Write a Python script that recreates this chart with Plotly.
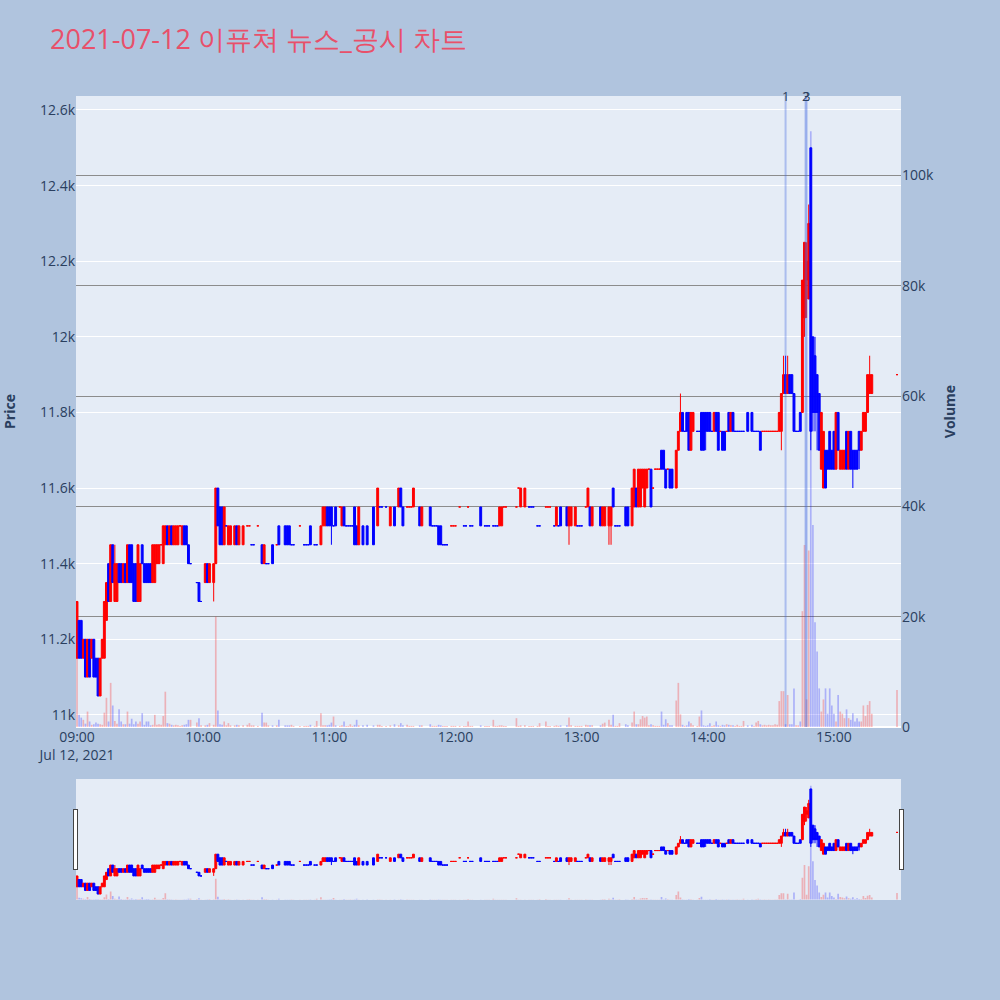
import pandas as pd
import plotly.graph_objects as go
from plotly.subplots import make_subplots

title_text = "2021-07-12 이퓨쳐 뉴스_공시 차트"

# minute offsets from 09:00 for each traded minute
minutes = [
    0, 1, 2, 3, 4, 5, 6, 7, 8, 9, 10, 11, 12, 13, 14, 15, 16, 17, 18, 19,
    20, 21, 22, 23, 24, 25, 26, 27, 28, 29, 30, 31, 32, 33, 34, 35, 36, 37, 38, 39,
    40, 41, 42, 43, 44, 45, 46, 47, 48, 49, 50, 51, 52, 53, 54, 57, 58, 59, 61, 62,
    63, 65, 66, 67, 68, 69, 70, 71, 72, 73, 75, 76, 77, 79, 81, 82, 83, 84, 86, 88,
    89, 90, 91, 93, 95, 96, 99, 100, 101, 102, 103, 106, 108, 109, 110, 111, 113, 114, 116, 117,
    118, 119, 120, 121, 122, 123, 125, 126, 127, 128, 129, 130, 131, 132, 133, 134, 136, 138, 141, 143,
    144, 145, 147, 149, 151, 153, 154, 155, 157, 158, 159, 160, 163, 164, 168, 169, 170, 171, 172, 173,
    174, 175, 176, 178, 179, 180, 182, 184, 185, 186, 187, 188, 192, 194, 195, 196, 198, 199, 200, 201,
    202, 203, 204, 209, 210, 211, 213, 215, 216, 217, 219, 220, 223, 224, 225, 227, 228, 229, 230, 233,
    234, 235, 237, 238, 239, 240, 242, 243, 244, 245, 249, 250, 251, 253, 254, 255, 256, 257, 258, 261,
    262, 264, 265, 266, 267, 268, 269, 270, 271, 272, 273, 274, 275, 276, 277, 278, 279, 280, 281, 282,
    283, 285, 286, 287, 288, 289, 290, 291, 292, 293, 295, 296, 297, 298, 299, 300, 301, 302, 303, 304,
    305, 306, 307, 308, 309, 310, 311, 312, 313, 314, 315, 316, 317, 319, 321, 322, 323, 324, 325, 326,
    327, 328, 329, 330, 331, 332, 333, 334, 335, 336, 337, 338, 339, 340, 341, 342, 343, 344, 345, 346,
    347, 348, 349, 350, 351, 352, 353, 354, 355, 356, 357, 358, 359, 360, 361, 362, 363, 364, 365, 366,
    367, 368, 369, 370, 371, 372, 373, 374, 375, 376, 377, 378, 390,
]

opens = [
    11150, 11250, 11250, 11150, 11200, 11100, 11200, 11150, 11200, 11150, 11150, 11050, 11150, 11150, 11250, 11400, 11300, 11450, 11300, 11300,
    11400, 11400, 11350, 11400, 11350, 11450, 11450, 11400, 11400, 11300, 11300, 11450, 11400, 11400, 11400, 11400, 11350, 11350, 11400, 11400,
    11450, 11400, 11450, 11500, 11450, 11500, 11450, 11450, 11450, 11500, 11450, 11500, 11500, 11450, 11400, 11350, 11350, 11300, 11350, 11400,
    11350, 11350, 11400, 11600, 11550, 11550, 11450, 11500, 11450, 11450, 11450, 11500, 11450, 11450, 11500, 11500, 11450, 11450, 11500, 11450,
    11400, 11400, 11400, 11450, 11450, 11500, 11500, 11500, 11500, 11450, 11450, 11500, 11450, 11450, 11450, 11500, 11450, 11450, 11450, 11500,
    11500, 11550, 11550, 11550, 11500, 11550, 11550, 11500, 11550, 11500, 11500, 11500, 11500, 11550, 11500, 11450, 11500, 11500, 11550, 11500,
    11550, 11550, 11550, 11500, 11550, 11550, 11600, 11550, 11550, 11550, 11550, 11550, 11550, 11500, 11550, 11500, 11500, 11500, 11500, 11500,
    11450, 11450, 11450, 11500, 11500, 11500, 11550, 11500, 11500, 11550, 11500, 11500, 11550, 11500, 11500, 11500, 11500, 11500, 11500, 11500,
    11500, 11550, 11550, 11550, 11600, 11550, 11550, 11550, 11550, 11550, 11500, 11500, 11550, 11550, 11550, 11500, 11500, 11500, 11550, 11550,
    11500, 11500, 11500, 11500, 11500, 11500, 11550, 11550, 11550, 11500, 11550, 11500, 11500, 11500, 11500, 11600, 11500, 11500, 11500, 11550,
    11550, 11500, 11550, 11600, 11550, 11550, 11600, 11550, 11600, 11650, 11650, 11600, 11650, 11650, 11650, 11700, 11700, 11650, 11650, 11650,
    11650, 11600, 11700, 11750, 11800, 11750, 11800, 11800, 11700, 11750, 11750, 11750, 11800, 11800, 11800, 11800, 11800, 11750, 11750, 11800,
    11800, 11750, 11750, 11750, 11750, 11800, 11750, 11800, 11750, 11750, 11750, 11750, 11750, 11800, 11800, 11750, 11750, 11750, 11750, 11750,
    11750, 11750, 11750, 11750, 11750, 11750, 11750, 11750, 11750, 11850, 11900, 11850, 11900, 11900, 11850, 11750, 11750, 11800, 11800, 12050,
    12150, 12100, 12500, 12000, 11950, 11900, 11850, 11650, 11600, 11700, 11700, 11750, 11700, 11750, 11650, 11800, 11650, 11650, 11650, 11750,
    11650, 11750, 11700, 11700, 11700, 11750, 11700, 11750, 11750, 11800, 11850, 11850, 11900,
]

highs = [
    11300, 11250, 11250, 11200, 11200, 11200, 11200, 11200, 11200, 11150, 11150, 11150, 11200, 11300, 11350, 11400, 11450, 11450, 11450, 11400,
    11400, 11400, 11400, 11400, 11450, 11450, 11450, 11400, 11400, 11450, 11400, 11450, 11400, 11400, 11400, 11400, 11450, 11450, 11450, 11450,
    11450, 11500, 11500, 11500, 11500, 11500, 11500, 11500, 11500, 11500, 11500, 11500, 11500, 11450, 11400, 11350, 11350, 11300, 11400, 11400,
    11400, 11400, 11600, 11600, 11550, 11550, 11550, 11500, 11500, 11500, 11500, 11500, 11500, 11500, 11500, 11500, 11450, 11450, 11500, 11450,
    11450, 11400, 11400, 11450, 11450, 11500, 11500, 11500, 11500, 11450, 11450, 11500, 11450, 11450, 11450, 11500, 11450, 11450, 11500, 11550,
    11550, 11550, 11550, 11550, 11500, 11550, 11550, 11550, 11550, 11500, 11500, 11500, 11500, 11550, 11500, 11550, 11500, 11500, 11550, 11600,
    11550, 11550, 11550, 11550, 11550, 11600, 11600, 11550, 11550, 11550, 11550, 11600, 11550, 11550, 11550, 11500, 11500, 11500, 11500, 11500,
    11450, 11450, 11450, 11500, 11500, 11500, 11550, 11500, 11500, 11550, 11500, 11500, 11550, 11500, 11500, 11500, 11500, 11500, 11500, 11550,
    11550, 11550, 11550, 11550, 11600, 11600, 11600, 11550, 11550, 11550, 11500, 11500, 11550, 11550, 11550, 11500, 11550, 11500, 11550, 11550,
    11550, 11550, 11550, 11500, 11500, 11500, 11550, 11600, 11550, 11550, 11550, 11550, 11550, 11550, 11550, 11600, 11500, 11500, 11500, 11550,
    11550, 11600, 11650, 11600, 11650, 11650, 11650, 11650, 11650, 11650, 11650, 11600, 11650, 11650, 11650, 11700, 11700, 11650, 11650, 11650,
    11650, 11700, 11750, 11850, 11800, 11750, 11800, 11800, 11800, 11800, 11750, 11750, 11800, 11800, 11800, 11800, 11800, 11750, 11800, 11800,
    11800, 11750, 11750, 11750, 11750, 11800, 11800, 11800, 11750, 11750, 11750, 11750, 11750, 11800, 11800, 11750, 11750, 11750, 11750, 11750,
    11750, 11750, 11750, 11750, 11750, 11750, 11750, 11800, 11850, 11950, 11950, 11950, 11900, 11900, 11850, 11750, 11750, 11800, 12150, 12250,
    12250, 12350, 12500, 12000, 12000, 11900, 11850, 11800, 11750, 11700, 11700, 11750, 11700, 11750, 11800, 11800, 11700, 11700, 11700, 11750,
    11750, 11750, 11700, 11700, 11700, 11750, 11750, 11800, 11800, 11900, 11950, 11900, 11900,
]

lows = [
    11150, 11150, 11150, 11150, 11100, 11100, 11100, 11150, 11100, 11100, 11050, 11050, 11150, 11150, 11250, 11300, 11300, 11350, 11300, 11300,
    11350, 11350, 11350, 11350, 11350, 11350, 11350, 11300, 11300, 11300, 11300, 11400, 11350, 11350, 11350, 11350, 11350, 11350, 11400, 11400,
    11450, 11400, 11450, 11450, 11450, 11450, 11450, 11450, 11450, 11500, 11450, 11450, 11450, 11400, 11400, 11350, 11300, 11300, 11350, 11350,
    11350, 11300, 11400, 11500, 11450, 11450, 11450, 11500, 11450, 11450, 11450, 11450, 11450, 11450, 11500, 11500, 11450, 11450, 11500, 11400,
    11400, 11400, 11400, 11400, 11450, 11450, 11450, 11450, 11450, 11450, 11450, 11500, 11450, 11450, 11450, 11450, 11450, 11450, 11450, 11500,
    11500, 11500, 11500, 11450, 11500, 11500, 11550, 11500, 11500, 11500, 11500, 11500, 11500, 11450, 11450, 11450, 11450, 11450, 11450, 11500,
    11550, 11550, 11550, 11500, 11500, 11550, 11550, 11500, 11550, 11550, 11550, 11550, 11500, 11500, 11500, 11500, 11500, 11500, 11450, 11450,
    11450, 11450, 11450, 11500, 11500, 11500, 11550, 11500, 11500, 11550, 11500, 11500, 11500, 11500, 11500, 11500, 11500, 11500, 11500, 11500,
    11500, 11550, 11550, 11550, 11600, 11550, 11550, 11550, 11550, 11550, 11500, 11500, 11550, 11550, 11550, 11500, 11500, 11500, 11500, 11500,
    11450, 11500, 11500, 11500, 11500, 11500, 11550, 11550, 11500, 11500, 11500, 11500, 11500, 11450, 11450, 11550, 11500, 11500, 11500, 11500,
    11500, 11500, 11550, 11550, 11550, 11550, 11600, 11550, 11600, 11650, 11550, 11600, 11650, 11650, 11650, 11650, 11650, 11600, 11650, 11600,
    11600, 11600, 11700, 11750, 11750, 11750, 11750, 11700, 11700, 11750, 11750, 11750, 11700, 11700, 11700, 11750, 11750, 11750, 11750, 11750,
    11700, 11750, 11700, 11700, 11750, 11750, 11750, 11750, 11750, 11750, 11750, 11750, 11750, 11750, 11750, 11750, 11750, 11750, 11700, 11750,
    11750, 11750, 11750, 11750, 11750, 11750, 11750, 11750, 11700, 11850, 11850, 11850, 11850, 11850, 11750, 11750, 11750, 11750, 11800, 12000,
    12050, 12100, 11700, 11750, 11750, 11700, 11700, 11650, 11600, 11600, 11650, 11650, 11650, 11650, 11650, 11700, 11650, 11650, 11650, 11650,
    11650, 11650, 11600, 11650, 11650, 11650, 11700, 11750, 11750, 11800, 11850, 11850, 11900,
]

closes = [
    11300, 11150, 11150, 11200, 11100, 11200, 11100, 11200, 11100, 11100, 11050, 11150, 11200, 11300, 11350, 11300, 11450, 11350, 11400, 11400,
    11350, 11350, 11400, 11350, 11450, 11350, 11350, 11300, 11300, 11450, 11400, 11400, 11350, 11350, 11350, 11350, 11450, 11450, 11450, 11450,
    11450, 11500, 11500, 11450, 11500, 11450, 11500, 11500, 11500, 11500, 11500, 11450, 11450, 11400, 11400, 11350, 11300, 11300, 11400, 11350,
    11400, 11400, 11600, 11500, 11450, 11450, 11550, 11500, 11500, 11500, 11500, 11450, 11500, 11500, 11500, 11500, 11450, 11450, 11500, 11400,
    11450, 11400, 11400, 11400, 11450, 11450, 11450, 11450, 11450, 11450, 11450, 11500, 11450, 11450, 11450, 11450, 11450, 11450, 11500, 11550,
    11550, 11500, 11500, 11500, 11500, 11500, 11550, 11550, 11500, 11500, 11500, 11500, 11500, 11450, 11450, 11550, 11450, 11450, 11450, 11600,
    11550, 11550, 11550, 11550, 11500, 11600, 11550, 11500, 11550, 11550, 11550, 11600, 11500, 11550, 11500, 11500, 11500, 11500, 11450, 11450,
    11450, 11450, 11450, 11500, 11500, 11500, 11550, 11500, 11500, 11550, 11500, 11500, 11500, 11500, 11500, 11500, 11500, 11500, 11500, 11550,
    11550, 11550, 11550, 11550, 11600, 11600, 11600, 11550, 11550, 11550, 11500, 11500, 11550, 11550, 11550, 11500, 11550, 11500, 11500, 11500,
    11550, 11550, 11550, 11500, 11500, 11500, 11550, 11600, 11500, 11550, 11500, 11550, 11550, 11550, 11550, 11550, 11500, 11500, 11500, 11500,
    11500, 11600, 11650, 11550, 11650, 11650, 11650, 11650, 11650, 11650, 11550, 11600, 11650, 11650, 11650, 11650, 11650, 11600, 11650, 11600,
    11600, 11700, 11750, 11800, 11750, 11750, 11750, 11700, 11800, 11800, 11750, 11750, 11700, 11700, 11750, 11750, 11750, 11750, 11800, 11750,
    11700, 11750, 11700, 11700, 11750, 11750, 11800, 11750, 11750, 11750, 11750, 11750, 11750, 11750, 11750, 11750, 11750, 11750, 11700, 11750,
    11750, 11750, 11750, 11750, 11750, 11750, 11750, 11800, 11850, 11900, 11850, 11900, 11850, 11850, 11750, 11750, 11750, 11750, 12150, 12250,
    12200, 12300, 11750, 11800, 11800, 11800, 11700, 11800, 11750, 11600, 11650, 11650, 11650, 11650, 11800, 11700, 11700, 11700, 11700, 11650,
    11750, 11650, 11650, 11650, 11650, 11700, 11750, 11800, 11800, 11900, 11900, 11900, 11900,
]

volumes = [
    15000, 2200, 1700, 1300, 600, 2800, 1000, 400, 500, 800, 600, 500, 400, 2600, 5300, 1000, 8000, 3900, 1100, 600,
    3200, 1000, 500, 500, 2800, 600, 1500, 500, 1000, 600, 1000, 2500, 400, 1000, 1000, 300, 400, 2200, 400, 500,
    400, 2000, 6400, 700, 600, 400, 300, 400, 300, 200, 300, 400, 500, 1300, 1300, 800, 1600, 300, 300, 400,
    700, 400, 20000, 3000, 500, 400, 1000, 300, 700, 300, 300, 400, 300, 300, 400, 700, 300, 300, 200, 2600,
    800, 800, 300, 300, 300, 1300, 300, 300, 300, 400, 200, 200, 200, 200, 200, 400, 200, 1100, 2500, 300,
    300, 300, 400, 800, 1900, 300, 200, 300, 1000, 200, 200, 500, 200, 400, 1300, 300, 300, 400, 300, 400,
    400, 200, 200, 300, 500, 300, 700, 300, 400, 200, 200, 200, 300, 300, 500, 200, 200, 200, 400, 300,
    200, 200, 200, 200, 200, 200, 200, 200, 200, 1000, 200, 200, 300, 200, 200, 200, 1300, 200, 200, 300,
    300, 200, 200, 1600, 200, 300, 300, 200, 200, 200, 200, 700, 1000, 200, 200, 200, 300, 200, 300, 300,
    1700, 300, 200, 200, 200, 200, 400, 300, 300, 300, 300, 600, 800, 1300, 400, 2200, 200, 200, 700, 500,
    300, 800, 2800, 500, 500, 1400, 2000, 1700, 1900, 300, 500, 300, 200, 200, 200, 2800, 400, 1400, 700, 300,
    300, 4800, 8000, 2300, 400, 200, 300, 1000, 700, 300, 200, 1900, 3000, 300, 200, 300, 700, 200, 300, 1000,
    300, 200, 400, 300, 500, 400, 300, 300, 200, 400, 200, 200, 1100, 300, 400, 200, 800, 1100, 500, 300,
    400, 300, 400, 300, 300, 500, 400, 4700, 6500, 6500, 500, 5800, 500, 500, 7000, 300, 300, 1000, 21000, 33000,
    5000, 32000, 108000, 36600, 19000, 13700, 7000, 2800, 5000, 7000, 2400, 7000, 3900, 2400, 1000, 5800, 2800, 2400, 1600, 3200,
    1600, 1300, 2500, 1000, 1600, 1000, 1000, 3900, 2000, 4000, 4700, 2400, 6700,
]

news_times = ["2021-07-12 14:37:00", "2021-07-12 14:46:30", "2021-07-12 14:47:00"]
news_labels = ["1", "2", "3"]

x_range = ["2021-07-12 08:59:31", "2021-07-12 15:31:54"]
price_range = [10968, 12637]
volume_range = [0, 114400]

base = pd.Timestamp("2021-07-12 09:00:00")
times = base + pd.to_timedelta(minutes, unit="min")

vol_colors = [
    "rgba(255,0,0,0.25)" if c >= o else "rgba(0,0,255,0.25)"
    for o, c in zip(opens, closes)
]

fig = make_subplots(specs=[[{"secondary_y": True}]])

fig.add_trace(
    go.Candlestick(
        x=times, open=opens, high=highs, low=lows, close=closes,
        increasing=dict(line=dict(color="red", width=1), fillcolor="red"),
        decreasing=dict(line=dict(color="blue", width=1), fillcolor="blue"),
        name="Price", showlegend=False,
    ),
    secondary_y=False,
)
fig.add_trace(
    go.Bar(x=times, y=volumes, marker=dict(color=vol_colors, line=dict(width=0)),
           name="Volume", showlegend=False),
    secondary_y=True,
)

for t, lab in zip(news_times, news_labels):
    fig.add_shape(type="line", xref="x", yref="paper", x0=t, x1=t, y0=0, y1=1,
                  line=dict(color="royalblue", width=2), opacity=0.35)
    fig.add_annotation(x=t, y=1, xref="x", yref="paper", text=lab, showarrow=False,
                       yanchor="middle", font=dict(size=13, color="#2a3f5f"))

fig.update_layout(
    width=1000, height=1000,
    paper_bgcolor="lightsteelblue",
    title=dict(text=title_text, x=0.05, xanchor="left", y=0.96, yanchor="middle",
               font=dict(size=27, color="#E8506A")),
    margin=dict(l=76, r=99, t=96, b=100),
    showlegend=False,
    boxgap=0.1, boxgroupgap=0.0,
)
fig.update_xaxes(domain=[0, 1], range=x_range, showgrid=False, tickfont=dict(size=14),
                 rangeslider=dict(visible=True, range=x_range, thickness=0.15))
fig.update_yaxes(title=dict(text="<b>Price</b>", font=dict(size=14), standoff=25),
                 automargin=False,
                 range=price_range, dtick=200, tickfont=dict(size=14),
                 secondary_y=False)
fig.update_yaxes(title=dict(text="<b>Volume</b>", font=dict(size=14), standoff=12),
                 automargin=False,
                 range=volume_range, dtick=20000, tickfont=dict(size=14),
                 showgrid=True, gridcolor="rgb(140,140,140)", secondary_y=True)

fig.write_html("out.html", config={"displayModeBar": False},
               post_script="document.body.style.margin='0';")
